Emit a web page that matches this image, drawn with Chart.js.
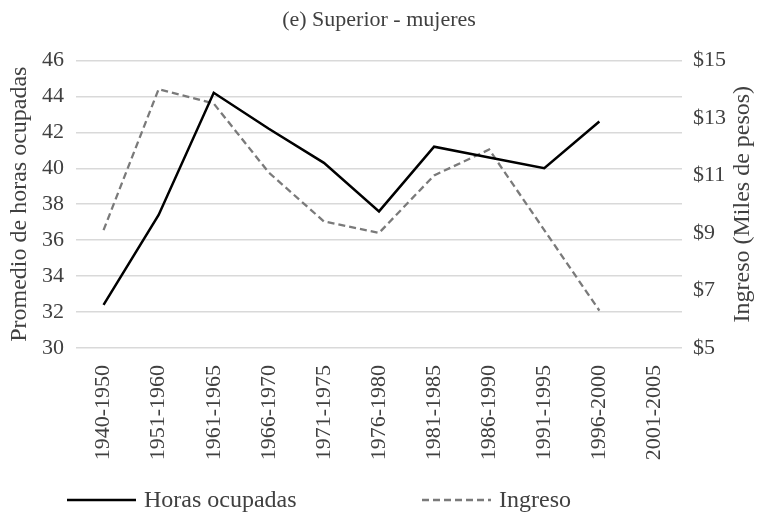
<!DOCTYPE html>
<html>
<head>
<meta charset="utf-8">
<script src="https://cdn.jsdelivr.net/npm/chart.js@4"></script>
<style>
	body { margin: 0; background: #fff; }
	#wrap { width: 758px; height: 514px; }
</style>
</head>
<body>
<div id="wrap"><canvas id="lineChart"></canvas></div>
<script>
// Data
const periods = ['1940-1950', '1951-1960', '1961-1965', '1966-1970', '1971-1975', '1976-1980', '1981-1985', '1986-1990', '1991-1995', '1996-2000', '2001-2005']
const horas = [32.4, 37.4, 44.2, 42.2, 40.3, 37.6, 41.2, 40.6, 40.0, 42.6, null]
const ingreso = [9.1, 14.0, 13.5, 11.1, 9.4, 9.0, 11.0, 11.9, 9.1, 6.3, null]
const chartTitle = '(e) Superior - mujeres'
const leftTitle = 'Promedio de horas ocupadas'
const rightTitle = 'Ingreso (Miles de pesos)'

const serif = '"Liberation Serif", "Times New Roman", serif'
const textColor = '#404040'

// right axis title (reads bottom to top) and the legend row
const extras = {
	id: 'extras',
	afterDraw(chart) {
		const ctx = chart.ctx
		const area = chart.chartArea
		ctx.save()
		ctx.fillStyle = textColor
		ctx.font = '24px ' + serif
		ctx.textAlign = 'center'
		ctx.textBaseline = 'middle'
		ctx.translate(chart.width - 15, (area.top + area.bottom) / 2)
		ctx.rotate(-Math.PI / 2)
		ctx.fillText(rightTitle, 0, 0)
		ctx.restore()

		const y = chart.height - 14
		const starts = [67, 422]
		ctx.save()
		ctx.font = '24px ' + serif
		ctx.textBaseline = 'middle'
		ctx.textAlign = 'left'
		chart.data.datasets.forEach((ds, i) => {
			ctx.strokeStyle = ds.borderColor
			ctx.lineWidth = ds.borderWidth
			ctx.setLineDash(ds.borderDash || [])
			ctx.beginPath()
			ctx.moveTo(starts[i], y)
			ctx.lineTo(starts[i] + 69, y)
			ctx.stroke()
			ctx.fillStyle = textColor
			ctx.fillText(ds.label, starts[i] + 77, y + 1)
		})
		ctx.restore()
	}
}

const data = {
	labels: periods,
	datasets: [
		{
			label: 'Horas ocupadas',
			data: horas,
			borderColor: '#000000',
			backgroundColor: '#000000',
			borderWidth: 2.5,
			pointRadius: 0,
			tension: 0,
			yAxisID: 'y'
		},
		{
			label: 'Ingreso',
			data: ingreso,
			borderColor: '#7a7a7a',
			backgroundColor: '#7a7a7a',
			borderWidth: 2.3,
			borderDash: [7, 4],
			pointRadius: 0,
			tension: 0,
			yAxisID: 'y1'
		}
	]
}

const config_line = {
	type: 'line',
	data: data,
	options: {
		responsive: true,
		maintainAspectRatio: false,
		animation: false,
		layout: { padding: 0 },
		plugins: {
			legend: { display: false },
			tooltip: { enabled: false },
			title: {
				display: true,
				text: chartTitle,
				color: textColor,
				font: { family: serif, size: 22, weight: 'normal' },
				padding: { top: 7, bottom: 27 }
			}
		},
		scales: {
			x: {
				offset: true,
				grid: { display: false },
				border: { display: false },
				ticks: {
					color: textColor,
					font: { family: serif, size: 22 },
					minRotation: 90,
					maxRotation: 90,
					autoSkip: false,
					padding: 9
				},
				afterFit: scale => { scale.height = 166 }
			},
			y: {
				position: 'left',
				min: 30,
				max: 46,
				grid: { color: '#d9d9d9', lineWidth: 1.5, drawTicks: false },
				border: { display: false },
				ticks: {
					stepSize: 2,
					color: textColor,
					font: { family: serif, size: 22 },
					padding: 12
				},
				title: {
					display: true,
					text: leftTitle,
					color: textColor,
					font: { family: serif, size: 24 },
					padding: { top: 5, bottom: 0 }
				},
				afterFit: scale => { scale.width = 76 }
			},
			y1: {
				position: 'right',
				min: 5,
				max: 15,
				grid: { drawOnChartArea: false, drawTicks: false },
				border: { display: false },
				ticks: {
					stepSize: 2,
					color: textColor,
					font: { family: serif, size: 22 },
					padding: 11,
					callback: v => '$' + v
				},
				afterFit: scale => { scale.width = 76 }
			}
		}
	},
	plugins: [extras]
}
const myLineChart = new Chart(document.getElementById('lineChart'), config_line)
</script>
</body>
</html>
